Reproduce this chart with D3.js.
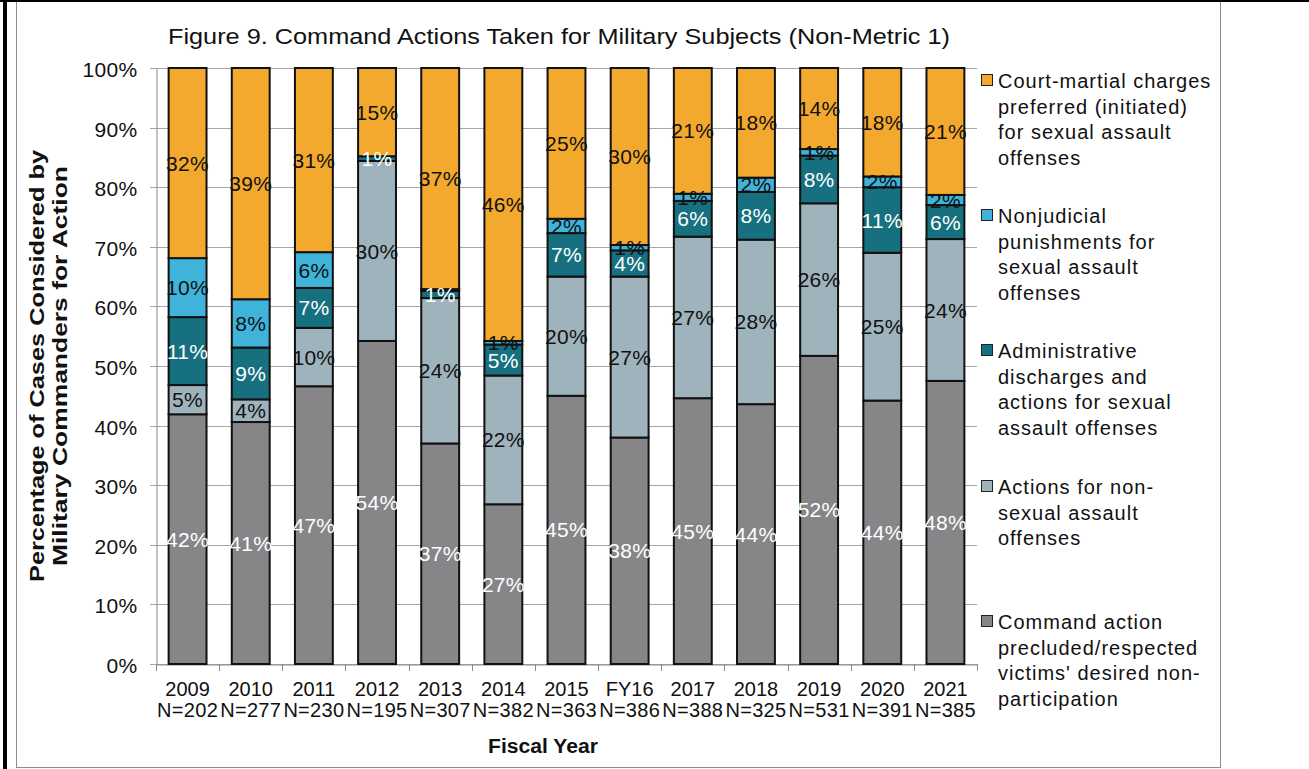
<!DOCTYPE html>
<html>
<head>
<meta charset="utf-8">
<script src="https://cdn.jsdelivr.net/npm/d3@7"></script>
<style>
  html, body { margin: 0; padding: 0; background: #fff; }
  svg { display: block; font-family: "Liberation Sans", Arial, sans-serif; }
</style>
</head>
<body>
<svg id="chart" width="1309" height="769"></svg>
<script>
// ---------- data ----------
const categories = ["2009","2010","2011","2012","2013","2014","2015","FY16","2017","2018","2019","2020","2021"];
const nLabels = ["N=202","N=277","N=230","N=195","N=307","N=382","N=363","N=386","N=388","N=325","N=531","N=391","N=385"];
// stacked bottom to top (percent)
const commandPrecluded = [41.9, 40.6, 46.6, 54.2, 37.0, 26.8, 45.0, 38.0, 44.6, 43.6, 51.7, 44.2, 47.5];
const nonSexualActions = [4.9, 3.8, 9.8, 30.2, 24.4, 21.6, 20.0, 27.0, 27.1, 27.6, 25.6, 24.8, 23.8];
const adminDischarges  = [11.4, 8.7, 6.7, 0.8, 1.2, 5.2, 7.3, 4.4, 6.0, 8.0, 8.0, 11.0, 5.7];
const nonjudicial      = [9.9, 8.1, 6.0, 0.0, 0.3, 0.6, 2.4, 0.9, 1.2, 2.4, 1.1, 1.8, 1.7];
const courtMartial     = [31.9, 38.8, 30.9, 14.8, 37.1, 45.8, 25.3, 29.7, 21.1, 18.4, 13.6, 18.2, 21.3];
const yTicks = [0, 10, 20, 30, 40, 50, 60, 70, 80, 90, 100];

const seriesKeys = ["cmd", "nonsa", "admin", "njp", "cm"];
const seriesColors = ["#868688", "#9fb3bd", "#17707f", "#3fb3da", "#f3a82e"];
const labelColors  = ["#ffffff", "#111111", "#ffffff", "#111111", "#111111"];
const legendLines = [
  ["Court-martial charges", "preferred (initiated)", "for sexual assault", "offenses"],
  ["Nonjudicial", "punishments for", "sexual assault", "offenses"],
  ["Administrative", "discharges and", "actions for sexual", "assault offenses"],
  ["Actions for non-", "sexual assault", "offenses"],
  ["Command action", "precluded/respected", "victims' desired non-", "participation"]
];
const legendOrder = [4, 3, 2, 1, 0];

// ---------- build ----------
const rows = categories.map((c, i) => ({
  cat: c,
  cmd: commandPrecluded[i], nonsa: nonSexualActions[i], admin: adminDischarges[i],
  njp: nonjudicial[i], cm: courtMartial[i]
}));
const stacked = d3.stack().keys(seriesKeys)(rows);

const svg = d3.select("#chart");

// frame
svg.append("rect").attr("x", 16.5).attr("y", 1.5).attr("width", 1204).attr("height", 766)
  .attr("fill", "#ffffff").attr("stroke", "#8c8c8c").attr("stroke-width", 1);
svg.append("rect").attr("x", 0).attr("y", 0).attr("width", 1309).attr("height", 2).attr("fill", "#000");
svg.append("rect").attr("x", 3).attr("y", 0).attr("width", 4).attr("height", 769).attr("fill", "#000");

const x = d3.scaleBand().domain(categories).range([156, 977]).paddingInner(0.4).paddingOuter(0.2);
const y = d3.scaleLinear().domain([0, 100]).range([664, 68]);

// gridlines
svg.append("g").selectAll("line").data(yTicks).join("line")
  .attr("x1", 150).attr("x2", 977)
  .attr("y1", d => Math.round(y(d)) + 0.5).attr("y2", d => Math.round(y(d)) + 0.5)
  .attr("stroke", "#a6a6a6").attr("stroke-width", 1);

// y axis
const yAxis = svg.append("g").attr("transform", "translate(156.5,0)")
  .call(d3.axisLeft(y).tickValues(yTicks).tickFormat(d => d + "%").tickSize(0).tickPadding(19));
yAxis.select(".domain").attr("stroke", "#8c8c8c");
yAxis.selectAll("text").attr("font-size", 21).attr("fill", "#111").attr("dy", "0.4em")
  .attr("letter-spacing", "0.3px")
  .attr("font-family", "Liberation Sans, Arial, sans-serif");

// x axis
const xAxis = svg.append("g").attr("transform", "translate(0,664.5)")
  .call(d3.axisBottom(x).tickSize(0).tickFormat(""));
xAxis.select(".domain").attr("stroke", "#8c8c8c");
const step = x.step();
svg.append("g").selectAll("line").data(d3.range(categories.length + 1)).join("line")
  .attr("x1", i => Math.round(156 + i * step) + 0.5).attr("x2", i => Math.round(156 + i * step) + 0.5)
  .attr("y1", 664).attr("y2", 671).attr("stroke", "#8c8c8c");

// bars
const layer = svg.append("g").selectAll("g").data(stacked).join("g")
  .attr("fill", (d, i) => seriesColors[i]);
layer.selectAll("rect").data(d => d.filter(s => s[1] - s[0] > 0)).join("rect")
  .attr("x", d => x(d.data.cat))
  .attr("width", x.bandwidth())
  .attr("y", d => y(d[1]))
  .attr("height", d => y(d[0]) - y(d[1]))
  .attr("stroke", "#111").attr("stroke-width", 2);

// labels
stacked.forEach((s, si) => {
  svg.append("g").selectAll("text").data(s.filter(d => d[1] - d[0] >= 0.5)).join("text")
    .attr("x", d => x(d.data.cat) + x.bandwidth() / 2)
    .attr("y", d => (y(d[0]) + y(d[1])) / 2)
    .attr("dy", "0.36em")
    .attr("text-anchor", "middle")
    .attr("font-size", 21)
    .attr("letter-spacing", "0.3px")
    .attr("fill", labelColors[si])
    .text(d => Math.round(d[1] - d[0]) + "%");
});

// x labels
const xl = svg.append("g");
categories.forEach((c, i) => {
  const cx = x(c) + x.bandwidth() / 2;
  xl.append("text").attr("x", cx).attr("y", 696).attr("text-anchor", "middle")
    .attr("font-size", 20).attr("fill", "#111").text(c);
  xl.append("text").attr("x", cx).attr("y", 717).attr("text-anchor", "middle")
    .attr("font-size", 20).attr("letter-spacing", "0.3px").attr("fill", "#111").text(nLabels[i]);
});

// axis titles
svg.append("text").attr("x", 543).attr("y", 753).attr("text-anchor", "middle")
  .attr("font-size", 20).attr("font-weight", "bold").attr("fill", "#111")
  .attr("textLength", 110).attr("lengthAdjust", "spacingAndGlyphs").text("Fiscal Year");
const yt = svg.append("text").attr("transform", "translate(44,366) rotate(-90)")
  .attr("text-anchor", "middle").attr("font-size", 20).attr("font-weight", "bold").attr("fill", "#111");
yt.append("tspan").attr("x", 0).attr("y", 0)
  .attr("textLength", 432).attr("lengthAdjust", "spacingAndGlyphs")
  .text("Percentage of Cases Considered by");
yt.append("tspan").attr("x", 0).attr("y", 23)
  .attr("textLength", 400).attr("lengthAdjust", "spacingAndGlyphs")
  .text("Military  Commanders for Action");

// title
svg.append("text").attr("x", 559).attr("y", 44).attr("text-anchor", "middle")
  .attr("font-size", 22).attr("fill", "#111")
  .attr("textLength", 782).attr("lengthAdjust", "spacingAndGlyphs")
  .text("Figure 9. Command Actions Taken for Military Subjects (Non-Metric 1)");

// legend
const legendY = [88, 223, 358, 494, 629];
const lg = svg.append("g");
legendOrder.forEach((si, k) => {
  const by = legendY[k];
  lg.append("rect").attr("x", 981.5).attr("y", by - 13.5).attr("width", 11).attr("height", 11)
    .attr("fill", seriesColors[si]).attr("stroke", "#222").attr("stroke-width", 1);
  legendLines[k].forEach((ln, j) => {
    lg.append("text").attr("x", 998).attr("y", by + j * 25.7)
      .attr("font-size", 20).attr("letter-spacing", "1px").attr("fill", "#111").text(ln);
  });
});
</script>
</body>
</html>
